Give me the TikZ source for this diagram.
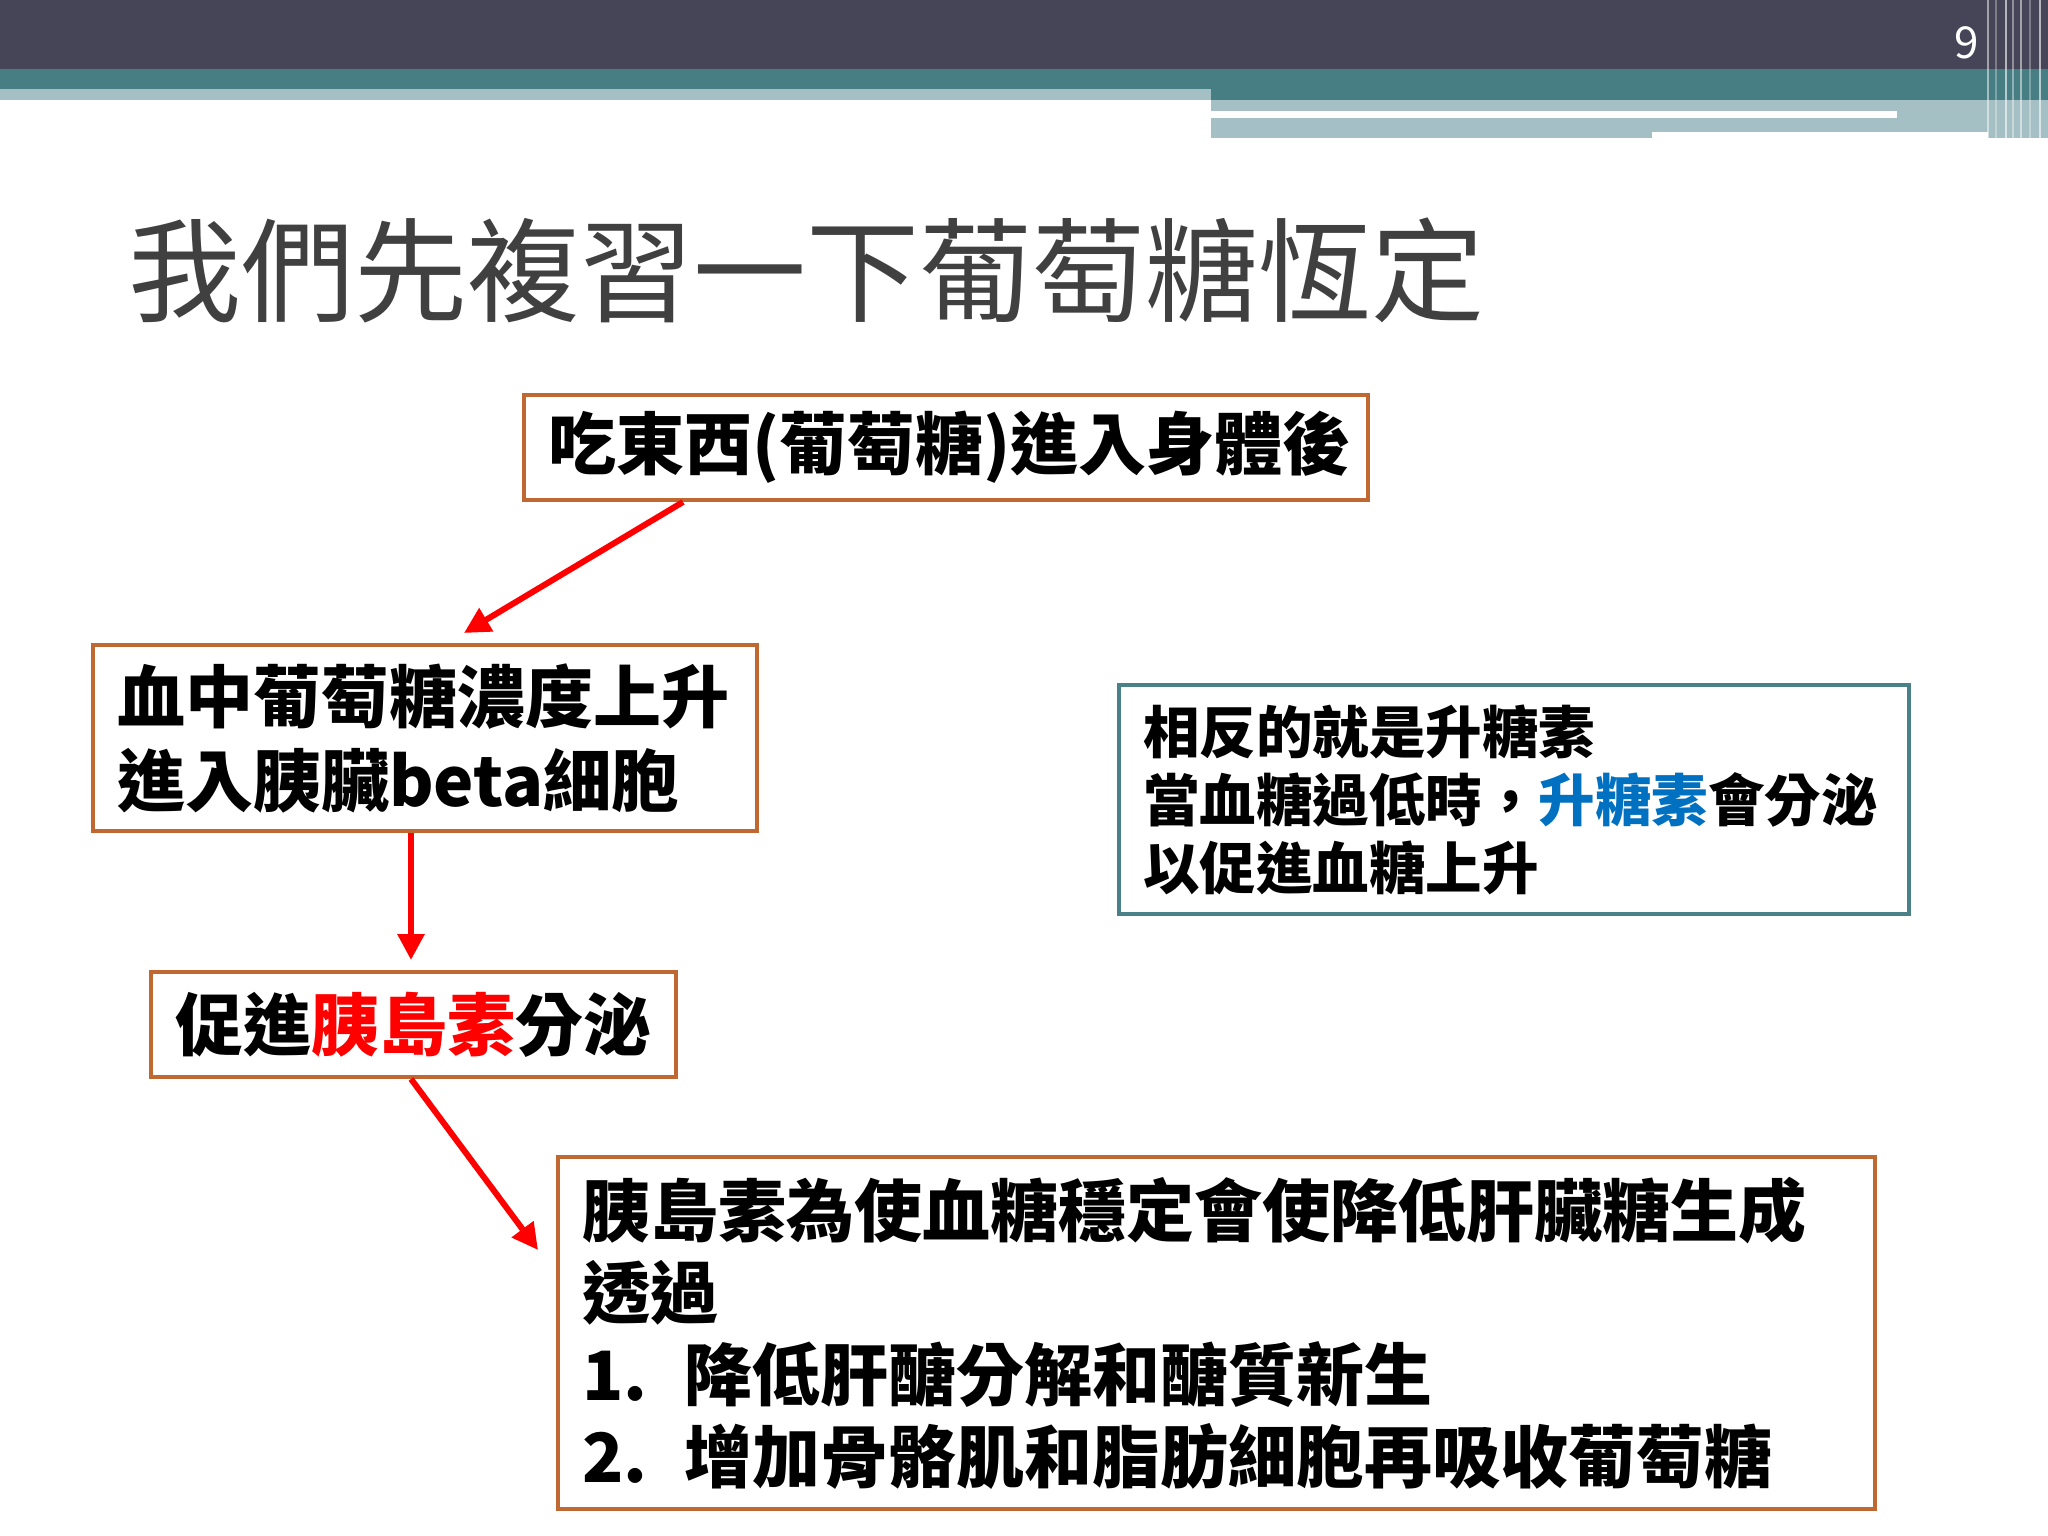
\documentclass[tikz,border=0pt]{standalone}
\usepackage{fontspec}
\setmainfont{Noto Sans CJK TC}
\usetikzlibrary{arrows.meta,positioning}
\definecolor{barDark}{RGB}{70,69,88}
\definecolor{barTeal}{RGB}{70,126,132}
\definecolor{barLight}{RGB}{165,192,196}
\definecolor{boxBrown}{RGB}{192,104,50}
\definecolor{boxTeal}{RGB}{74,128,135}
\definecolor{titleGray}{RGB}{64,64,64}
\definecolor{hlBlue}{RGB}{0,112,192}
\definecolor{hlRed}{RGB}{255,0,0}

\begin{document}
\begin{tikzpicture}[
  x=1pt, y=-1pt,
  box/.style = {shape=rectangle, draw=boxBrown, line width=4pt, inner xsep=24pt,
                inner ysep=0pt, anchor=north west, align=left,
                font=\bfseries\fontsize{68}{84}\selectfont},
  notebox/.style = {box, draw=boxTeal, font=\bfseries\fontsize{56.5}{68}\selectfont},
  flow/.style = {draw=hlRed, line width=6pt, -{Triangle[length=26pt,width=26pt]}}
]
  \useasboundingbox (0,0) rectangle (2048,1536);
  \fill[white] (0,0) rectangle (2048,1536);

  \fill[barDark] (0,0) rectangle (2048,69);
  \fill[barTeal] (0,69) rectangle (2048,100);
  \fill[barLight] (0,89) rectangle (1211,100);
  \fill[barLight] (1211,100) rectangle (2048,111);
  \fill[barLight] (1897,111) rectangle (2048,118);
  \fill[barLight] (1211,118) rectangle (1652,138);
  \fill[barLight] (1652,118) rectangle (2010,132);
  \fill[barLight] (1988,100) rectangle (2048,138);
  \foreach \x/\o in {1988/0.5,1996/0.3,2006/0.6,2013/0.4,2021/0.5,2030/0.3,2040/0.6}
    \draw[white, opacity=\o, line width=2pt] (\x,0) -- (\x,138);

  \node[white, font=\fontsize{44}{44}\selectfont] (pagenum) at (1967,43) {9};
  \node[anchor=west, inner sep=0pt, text=titleGray,
        font=\fontsize{113}{113}\selectfont] (title) at (128,270)
    {我們先複習一下葡萄糖恆定};

  \node[box, align=center, text width=796pt, minimum height=105pt] (eat) at (522,393)
    {吃東西(葡萄糖)進入身體後};
  \node[box, text width=616pt, minimum height=186pt] (rise) at (91,643)
    {\raisebox{4pt}{血中葡萄糖濃度上升}\\\raisebox{4pt}{進入胰臟beta細胞}};
  \node[box, text width=477pt, minimum height=105pt] (secrete) at (149,970)
    {促進\textcolor{hlRed}{胰島素}分泌};
  \node[notebox, text width=742pt, minimum height=229pt] (glucagon) at (1117,683)
    {相反的就是升糖素\\當血糖過低時，\textcolor{hlBlue}{升糖素}會分泌\\以促進血糖上升};
  \node[box, font=\bfseries\fontsize{68}{82}\selectfont, text width=1269pt,
        minimum height=352pt] (insulin) at (556,1155)
    {\raisebox{6pt}{胰島素為使血糖穩定會使降低肝臟糖生成}\\\raisebox{6pt}{透過}\\
     \raisebox{6pt}{\makebox[103pt][l]{1.}降低肝醣分解和醣質新生}\\
     \raisebox{6pt}{\makebox[103pt][l]{2.}增加骨骼肌和脂肪細胞再吸收葡萄糖}};

  \coordinate (eatout) at ([xshift=161pt]eat.south west);
  \coordinate (risein) at (464,633);
  \draw[flow] (eatout) -- (risein);
  \draw[flow] ([xshift=320pt]rise.south west) -- ([xshift=262pt,yshift=10pt]secrete.north west);
  \draw[flow] ([xshift=262pt]secrete.south west) -- ([xshift=-18pt,yshift=-95pt]insulin.north west);
\end{tikzpicture}
\end{document}
